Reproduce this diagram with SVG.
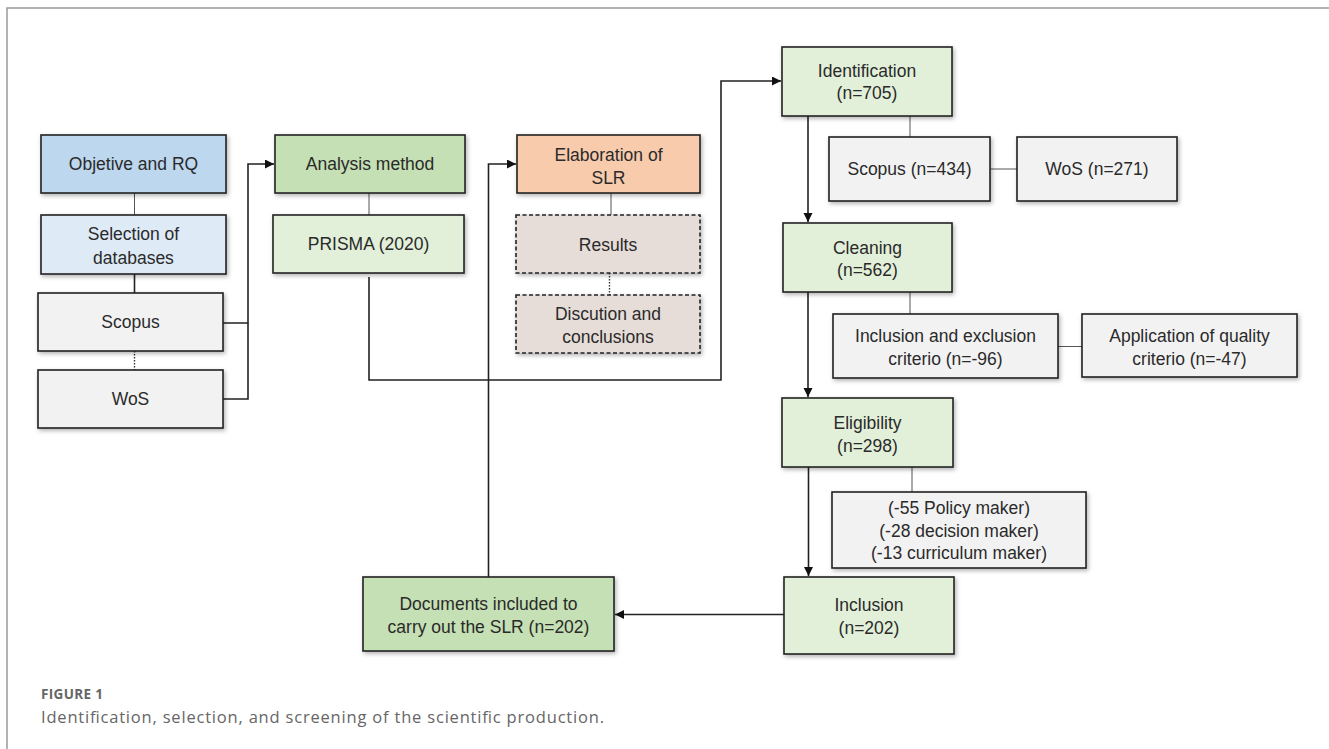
<svg xmlns="http://www.w3.org/2000/svg" width="1329" height="749" viewBox="0 0 1329 749">
<style>
.box{stroke:#222;stroke-width:1.6;filter:url(#sh)}
.dash{stroke-dasharray:4 2.5}
.t{font-family:"Liberation Sans",Arial,sans-serif;font-size:17.5px;fill:#2a2a2a;text-anchor:middle}
.c{fill:none;stroke:#222;stroke-width:1.6}
.thin{fill:none;stroke:#555;stroke-width:1}
.dot{fill:none;stroke:#333;stroke-width:1.4;stroke-dasharray:1.5 1.5}
.blue{fill:#bdd7ee}.lblue{fill:#deebf7}.grey{fill:#f2f2f2}.green{fill:#c5e0b4}.lgreen{fill:#e2f0d9}.orange{fill:#f8cbad}.pink{fill:#e6ddd8}
.cap{font-family:"Open Sans","Liberation Sans",sans-serif;fill:#666}
</style>
<defs>
<filter id="sh" x="-10%" y="-10%" width="125%" height="135%">
<feDropShadow dx="1.5" dy="2" stdDeviation="2" flood-color="#000" flood-opacity="0.3"/>
</filter>
<marker id="ar" markerUnits="userSpaceOnUse" markerWidth="10" markerHeight="10" refX="9" refY="4.5" orient="auto">
<path d="M0,0 L9,4.5 L0,9 z" fill="#111"/>
</marker>
</defs>
<rect width="1329" height="749" fill="#fff"/>
<path d="M7,749 V8 H1329" fill="none" stroke="#999" stroke-width="1.5"/>

<g id="connectors">
<path class="thin" d="M134.5,193 V215"/>
<path class="c" d="M134.5,274 V293"/>
<path class="dot" d="M134.5,351 V370"/>
<path class="c" d="M223,323 H248 V164 H274" marker-end="url(#ar)"/>
<path class="c" d="M223,399 H248 V323"/>
<path class="thin" d="M369,193 V215"/>
<path class="c" d="M369,277 V380 H721 V81 H781" marker-end="url(#ar)"/>
<path class="c" d="M488.5,577 V164 H516" marker-end="url(#ar)"/>
<path class="thin" d="M611,193 V215"/>
<path class="dot" d="M609.5,273 V295"/>
<path class="c" d="M808,116 V222" marker-end="url(#ar)"/>
<path class="thin" d="M910,116 V137"/>
<path class="thin" d="M990,169 H1017"/>
<path class="c" d="M808,292 V397" marker-end="url(#ar)"/>
<path class="thin" d="M910,292 V314"/>
<path class="thin" d="M1058,346.5 H1082"/>
<path class="c" d="M808.5,467 V576" marker-end="url(#ar)"/>
<path class="thin" d="M912,467 V492"/>
<path class="c" d="M784,614.5 H615" marker-end="url(#ar)"/>
</g>

<g id="objective"><rect class="box blue" x="41" y="135" width="185" height="58"/><text class="t" x="133.5" y="170">Objetive and RQ</text></g>
<g id="selection"><rect class="box lblue" x="41" y="215" width="185" height="59"/><text class="t" x="133.5" y="240">Selection of</text><text class="t" x="133.5" y="264">databases</text></g>
<g id="scopus"><rect class="box grey" x="38" y="293" width="185" height="58"/><text class="t" x="130.5" y="328">Scopus</text></g>
<g id="wos"><rect class="box grey" x="38" y="370" width="185" height="58"/><text class="t" x="130.5" y="405">WoS</text></g>
<g id="analysis"><rect class="box green" x="275" y="135" width="190" height="58"/><text class="t" x="370" y="170">Analysis method</text></g>
<g id="prisma"><rect class="box lgreen" x="273" y="215" width="191" height="58"/><text class="t" x="368.5" y="250">PRISMA (2020)</text></g>
<g id="elaboration"><rect class="box orange" x="517" y="135" width="183" height="58"/><text class="t" x="608.5" y="161">Elaboration of</text><text class="t" x="608.5" y="184">SLR</text></g>
<g id="results"><rect class="box pink dash" x="516" y="215" width="184" height="58"/><text class="t" x="608" y="251">Results</text></g>
<g id="discution"><rect class="box pink dash" x="516" y="295" width="184" height="58"/><text class="t" x="608" y="320">Discution and</text><text class="t" x="608" y="343">conclusions</text></g>
<g id="identification"><rect class="box lgreen" x="782" y="47" width="170" height="69"/><text class="t" x="867" y="77">Identification</text><text class="t" x="867" y="99">(n=705)</text></g>
<g id="scopus434"><rect class="box grey" x="829" y="137" width="161" height="64"/><text class="t" x="909.5" y="175">Scopus (n=434)</text></g>
<g id="wos271"><rect class="box grey" x="1017" y="137" width="160" height="64"/><text class="t" x="1097" y="175">WoS (n=271)</text></g>
<g id="cleaning"><rect class="box lgreen" x="783" y="223" width="169" height="69"/><text class="t" x="867.5" y="253.5">Cleaning</text><text class="t" x="867.5" y="276">(n=562)</text></g>
<g id="inclexcl"><rect class="box grey" x="833" y="314" width="225" height="64"/><text class="t" x="945.5" y="342">Inclusion and exclusion</text><text class="t" x="945.5" y="365">criterio (n=-96)</text></g>
<g id="quality"><rect class="box grey" x="1082" y="314" width="215" height="63"/><text class="t" x="1189.5" y="342">Application of quality</text><text class="t" x="1189.5" y="365">criterio (n=-47)</text></g>
<g id="eligibility"><rect class="box lgreen" x="782" y="398" width="171" height="69"/><text class="t" x="867.5" y="429">Eligibility</text><text class="t" x="867.5" y="452">(n=298)</text></g>
<g id="makers"><rect class="box grey" x="832" y="492" width="254" height="76"/><text class="t" x="959" y="514">(-55 Policy maker)</text><text class="t" x="959" y="537">(-28 decision maker)</text><text class="t" x="959" y="559">(-13 curriculum maker)</text></g>
<g id="inclusion"><rect class="box lgreen" x="784" y="577" width="170" height="77"/><text class="t" x="869" y="611">Inclusion</text><text class="t" x="869" y="634">(n=202)</text></g>
<g id="documents"><rect class="box green" x="363" y="577" width="251" height="74"/><text class="t" x="488.5" y="610">Documents included to</text><text class="t" x="488.5" y="633">carry out the SLR (n=202)</text></g>

<text class="cap" x="41" y="699" font-size="13.5" font-weight="bold" fill="#777" textLength="62" lengthAdjust="spacing">FIGURE 1</text>
<text class="cap" x="41" y="723" font-size="16.5" textLength="563" lengthAdjust="spacing">Identification, selection, and screening of the scientific production.</text>
</svg>
